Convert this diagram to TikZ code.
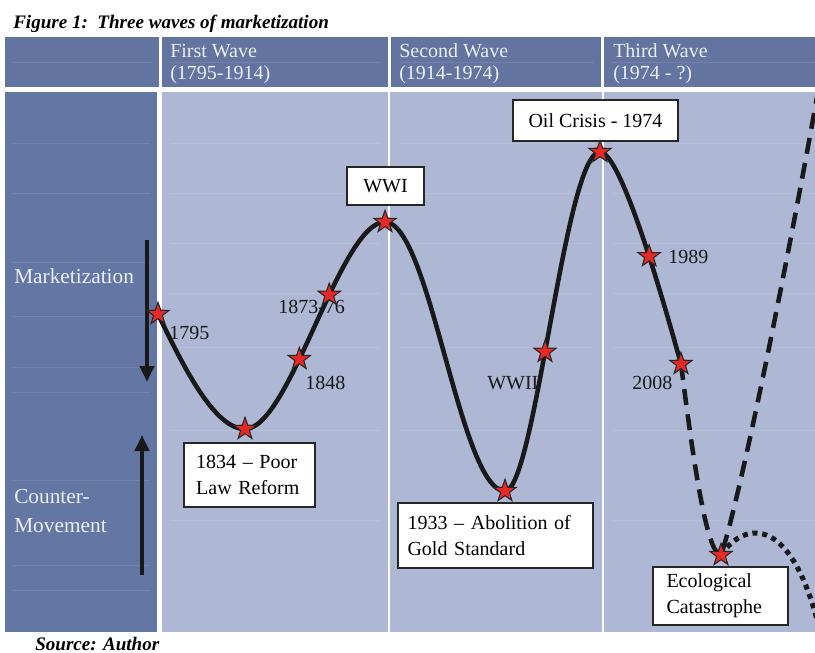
\documentclass[tikz,border=0pt]{standalone}
\usepackage{fontspec}
\setmainfont{Liberation Serif}
\usetikzlibrary{shapes.geometric,arrows.meta}
\definecolor{hdr}{RGB}{99,116,161}
\definecolor{bodyc}{RGB}{174,184,212}
\definecolor{leftc}{RGB}{100,118,163}
\definecolor{starred}{RGB}{232,40,36}
\definecolor{hdrtxt}{RGB}{236,238,244}
\begin{document}
\begin{tikzpicture}[x=0.75pt,y=-0.75pt,
  hdrtext/.style={text=hdrtxt, font=\fontsize{15}{18}\selectfont, anchor=base west, inner sep=0pt},
  lefttext/.style={text=hdrtxt, font=\fontsize{16}{19}\selectfont, anchor=base west, inner sep=0pt},
  labbox/.style={draw=black!85, line width=1.2pt, fill=white, font=\fontsize{15}{19.5}\selectfont, inner ysep=3pt},
  yr/.style={font=\fontsize{15}{18}\selectfont, text=black!90, anchor=base west, inner sep=0pt},
  starnode/.style={star, star points=5, star point ratio=2.5, minimum size=17.5pt, inner sep=0pt, fill=starred, draw=black!85, line width=0.8pt},
  curve/.style={line width=3.4pt, draw=black!90},
  bigarrow/.style={line width=3pt, draw=black!90, -{Triangle[length=12pt,width=10.5pt]}},
  gridline/.style={draw=white, opacity=0.1, line width=0.5pt}
]
\useasboundingbox (0,0) rectangle (815,653);

% title
\node[anchor=base west, inner sep=0pt, font=\fontsize{14.3}{17}\selectfont\bfseries\itshape] (title) at (13,28) {Figure 1:\ \ Three waves of marketization};
\node[anchor=base west, inner sep=0pt, font=\fontsize{14.3}{17}\selectfont\bfseries\itshape] (src) at (35,650) {Source: Author};

% header
\fill[hdr] (5,37) rectangle (159,87);
\fill[hdr] (162,37) rectangle (388,87);
\fill[hdr] (391,37) rectangle (601,87);
\fill[hdr] (604,37) rectangle (815,87);
\draw[gridline] (13,62) -- (152,62);
\draw[gridline] (170,62) -- (381,62);
\draw[gridline] (399,62) -- (594,62);
\draw[gridline] (612,62) -- (815,62);

% body
\fill[leftc] (5,92) rectangle (157,632);
\fill[bodyc] (162,92) rectangle (815,632);
\foreach \yy in {143,193,262,316,367,392,480,565,590}{
  \draw[gridline] (13,\yy) -- (150,\yy);
}
\foreach \yy in {143,193,243,293,347,430,520}{
  \draw[gridline] (170,\yy) -- (381,\yy);
  \draw[gridline] (399,\yy) -- (594,\yy);
  \draw[gridline] (612,\yy) -- (815,\yy);
}
\draw[white, line width=1.2pt] (389,92) -- (389,632);
\draw[white, line width=1.2pt] (603,92) -- (603,632);

% header texts
\node[hdrtext] (w1a) at (170,57) {First Wave};
\node[hdrtext] (w1b) at (170,79) {(1795-1914)};
\node[hdrtext] (w2a) at (399,57) {Second Wave};
\node[hdrtext] (w2b) at (399,79) {(1914-1974)};
\node[hdrtext] (w3a) at (613,57) {Third Wave};
\node[hdrtext] (w3b) at (613,79) {(1974 - ?)};

% left column
\node[lefttext] (mk) at (14,283) {Marketization};
\node[lefttext] (cm1) at (14,503) {Counter-};
\node[lefttext] (cm2) at (14,532) {Movement};
\coordinate (mTop) at (147,240);
\coordinate (mBot) at (147,382);
\coordinate (cBot) at (142,575);
\coordinate (cTop) at (142,435);
\draw[bigarrow] (mTop) -- (mBot);
\draw[bigarrow] (cBot) -- (cTop);

% year labels
\node[yr] (l1795) at (169,339) {1795};
\node[yr] (l1873) at (278,313) {1873-76};
\node[yr] (l1848) at (305,389) {1848};
\node[yr] (lWWII) at (487,389) {WWII};
\node[yr] (l2008) at (632,389) {2008};
\node[yr] (l1989) at (668,263) {1989};

% key points
\coordinate (c1795) at (158,314);
\coordinate (c1834) at (245,429);
\coordinate (cWWI) at (385,222);
\coordinate (c1933) at (505,491);
\coordinate (cOil) at (600,152);
\coordinate (c2008) at (681,364);
\coordinate (cEco) at (721,555);
\coordinate (cExit) at (820,80);
\coordinate (cOff) at (822,640);

% dashed future
\begin{scope}
\clip (162,92) rectangle (815,632);
\draw[curve, dash pattern=on 12pt off 7pt] (c2008) .. controls (692,450) and (706,555) .. (cEco)
  .. controls (740,500) and (792,240) .. (cExit);
\draw[curve, line width=3.8pt, dash pattern=on 3.8pt off 3.6pt] (cEco) .. controls (745,520) and (794,513) .. (cOff);
\end{scope}

% main solid curve
\draw[curve] (c1795) .. controls (185,370) and (215,429) .. (c1834)
  .. controls (290,429) and (340,222) .. (cWWI)
     node[starnode, pos=0.39] (s1848) {}
     node[starnode, pos=0.6] (s1873) {}
  .. controls (430,222) and (460,491) .. (c1933)
  .. controls (535,491) and (565,152) .. (cOil)
     node[starnode, pos=0.44] (sWWII) {}
  .. controls (622,152) and (667,314) .. (c2008)
     node[starnode, pos=0.56] (s1989) {};

% stars at key points
\node[starnode] (s1795) at (c1795) {};
\node[starnode] (s1834) at (c1834) {};
\node[starnode] (sWWI) at (cWWI) {};
\node[starnode] (s1933) at (c1933) {};
\node[starnode] (sOil) at (cOil) {};
\node[starnode] (s2008) at (c2008) {};
\node[starnode] (sEco) at (cEco) {};

% boxes
\node[labbox, minimum width=98pt, minimum height=48pt, text width=80pt, inner xsep=9pt, align=left] (bPoor) at (249.5,475) {1834 -- Poor\\Law Reform};
\node[labbox, minimum width=58pt, minimum height=28.5pt, align=center] (bWWI) at (385.5,186) {WWI};
\node[labbox, minimum width=124pt, minimum height=31pt, align=center] (bOil) at (595.5,120.5) {Oil Crisis - 1974};
\node[labbox, minimum width=146pt, minimum height=49pt, text width=132pt, inner xsep=7pt, align=left] (b1933) at (495.5,535.5) {1933 -- Abolition of\\Gold Standard};
\node[labbox, minimum width=101pt, minimum height=43.5pt, text width=81pt, inner xsep=10pt, align=left] (bEco) at (720.5,596) {Ecological\\Catastrophe};
\end{tikzpicture}
\end{document}
